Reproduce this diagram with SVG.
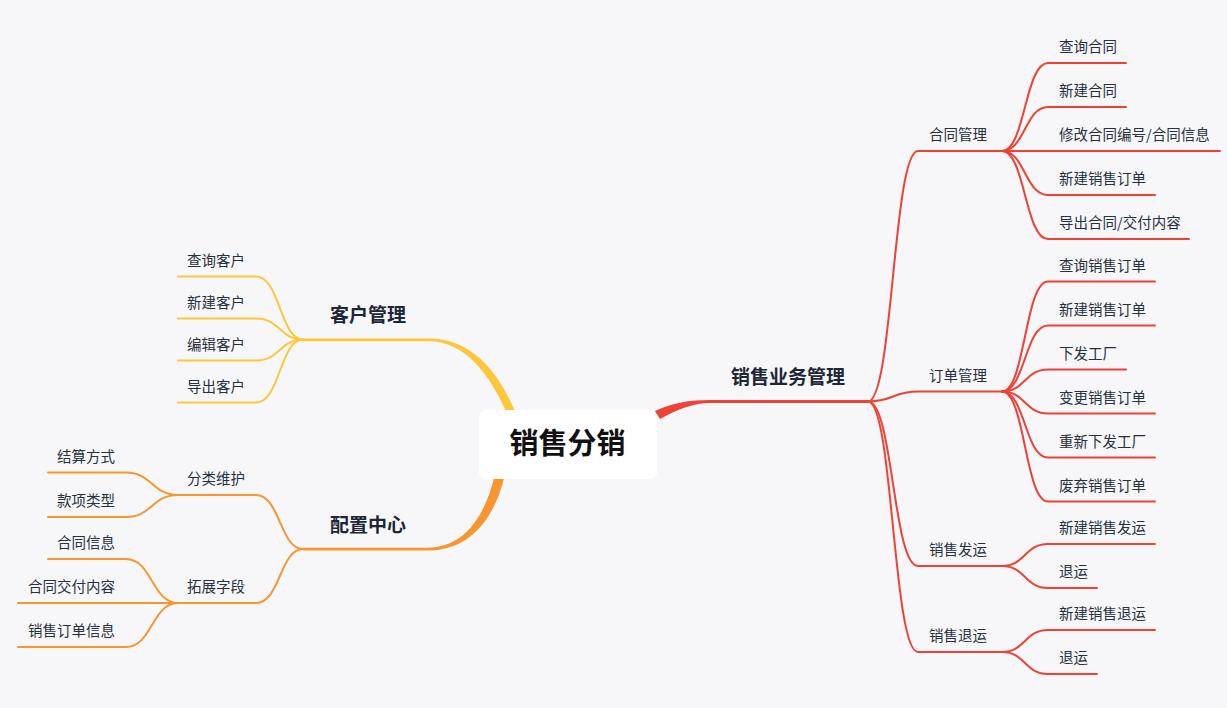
<svg xmlns="http://www.w3.org/2000/svg" width="1227" height="708" viewBox="0 0 1227 708">
<style>
.l{fill:none;stroke-width:2;stroke-linecap:round}
.r{stroke:#ef4136}
.y{stroke:#fcc73a}
.o{stroke:#f7962f}
.t{font-family:"Noto Sans CJK SC","Noto Sans",sans-serif;font-size:14.5px;fill:#27303d}
.b{font-family:"Noto Sans CJK SC","Noto Sans",sans-serif;font-size:19px;font-weight:bold;fill:#1c2636}
.m{font-family:"Noto Sans CJK SC","Noto Sans",sans-serif;font-size:29px;font-weight:bold;fill:#111}
</style>
<rect width="1227" height="708" fill="#f7f7f9"/>
<g id="connectors">
<path fill="#fcc73a" d="M303 338.4 H429 C468 338.4 497 366 517 416 L508 416 C490 373 464 341.2 429 341.2 H303 Z"/>
<path fill="#f7962f" d="M303 547.8 H427 C463 547.8 485 518 495 474 L505 474 C494 523 467 550.6 427 550.6 H303 Z"/>
<path fill="#ef4136" d="M655 411 C672 403 690 400 710 400 H868 V403 H710 C694 403 678 409 660 419 Z"/>
<path class="l y" d="M303 339.5 C280 339.5 280 276.5 256 276.5 H178"/>
<path class="l y" d="M303 339.5 C280 339.5 280 318.5 256 318.5 H178"/>
<path class="l y" d="M303 339.5 C280 339.5 280 360.5 256 360.5 H178"/>
<path class="l y" d="M303 339.5 C280 339.5 280 402.5 256 402.5 H178"/>
<path class="l o" d="M303 549 C280 549 280 495 256 495 H178"/>
<path class="l o" d="M303 549 C280 549 280 603 256 603 H178"/>
<path class="l o" d="M178 495 C152 495 152 472.5 126 472.5 H48"/>
<path class="l o" d="M178 495 C152 495 152 517 126 517 H48"/>
<path class="l o" d="M178 603 C152 603 152 559 126 559 H48"/>
<path class="l o" d="M178 603 H18"/>
<path class="l o" d="M178 603 C152 603 152 647 126 647 H18"/>
<path class="l r" d="M868 401.5 C893 401.5 893 151 918 151 H1002"/>
<path class="l r" d="M868 401.5 C893 401.5 893 391.5 918 391.5 H1002"/>
<path class="l r" d="M868 401.5 C893 401.5 893 566 918 566 H1002"/>
<path class="l r" d="M868 401.5 C893 401.5 893 652 918 652 H1002"/>
<path class="l r" d="M1002 151 C1025 151 1025 63 1048 63 H1126"/>
<path class="l r" d="M1002 151 C1025 151 1025 107 1048 107 H1126"/>
<path class="l r" d="M1002 151 H1220"/>
<path class="l r" d="M1002 151 C1025 151 1025 195 1048 195 H1155"/>
<path class="l r" d="M1002 151 C1025 151 1025 239 1048 239 H1189"/>
<path class="l r" d="M1002 391.5 C1025 391.5 1025 281.5 1048 281.5 H1155"/>
<path class="l r" d="M1002 391.5 C1025 391.5 1025 325.5 1048 325.5 H1155"/>
<path class="l r" d="M1002 391.5 C1025 391.5 1025 369.5 1048 369.5 H1126"/>
<path class="l r" d="M1002 391.5 C1025 391.5 1025 413.5 1048 413.5 H1155"/>
<path class="l r" d="M1002 391.5 C1025 391.5 1025 457.5 1048 457.5 H1155"/>
<path class="l r" d="M1002 391.5 C1025 391.5 1025 501.5 1048 501.5 H1155"/>
<path class="l r" d="M1002 566 C1025 566 1025 544 1048 544 H1155"/>
<path class="l r" d="M1002 566 C1025 566 1025 588 1048 588 H1097"/>
<path class="l r" d="M1002 652 C1025 652 1025 630 1048 630 H1155"/>
<path class="l r" d="M1002 652 C1025 652 1025 674 1048 674 H1097"/>
</g>
<g id="root">
<rect x="479" y="410" width="178" height="69" rx="7" fill="#fff"/>
<text class="m" x="567.5" y="454" text-anchor="middle">销售分销</text>
</g>
<g id="n-kehu"><text class="b" x="330" y="322">客户管理</text></g>
<g id="n-kehu-1"><text class="t" x="187" y="266">查询客户</text></g>
<g id="n-kehu-2"><text class="t" x="187" y="308">新建客户</text></g>
<g id="n-kehu-3"><text class="t" x="187" y="350">编辑客户</text></g>
<g id="n-kehu-4"><text class="t" x="187" y="392">导出客户</text></g>
<g id="n-peizhi"><text class="b" x="330" y="532">配置中心</text></g>
<g id="n-fenlei"><text class="t" x="187" y="484">分类维护</text></g>
<g id="n-fenlei-1"><text class="t" x="57" y="462">结算方式</text></g>
<g id="n-fenlei-2"><text class="t" x="57" y="506">款项类型</text></g>
<g id="n-tuozhan"><text class="t" x="187" y="592">拓展字段</text></g>
<g id="n-tuozhan-1"><text class="t" x="57" y="548">合同信息</text></g>
<g id="n-tuozhan-2"><text class="t" x="28" y="592">合同交付内容</text></g>
<g id="n-tuozhan-3"><text class="t" x="28" y="636">销售订单信息</text></g>
<g id="n-yewu"><text class="b" x="731" y="384">销售业务管理</text></g>
<g id="n-hetong"><text class="t" x="929" y="140">合同管理</text></g>
<g id="n-hetong-1"><text class="t" x="1059" y="52">查询合同</text></g>
<g id="n-hetong-2"><text class="t" x="1059" y="96">新建合同</text></g>
<g id="n-hetong-3"><text class="t" x="1059" y="140">修改合同编号/合同信息</text></g>
<g id="n-hetong-4"><text class="t" x="1059" y="184">新建销售订单</text></g>
<g id="n-hetong-5"><text class="t" x="1059" y="228">导出合同/交付内容</text></g>
<g id="n-dingdan"><text class="t" x="929" y="380.5">订单管理</text></g>
<g id="n-dingdan-1"><text class="t" x="1059" y="270.5">查询销售订单</text></g>
<g id="n-dingdan-2"><text class="t" x="1059" y="314.5">新建销售订单</text></g>
<g id="n-dingdan-3"><text class="t" x="1059" y="358.5">下发工厂</text></g>
<g id="n-dingdan-4"><text class="t" x="1059" y="402.5">变更销售订单</text></g>
<g id="n-dingdan-5"><text class="t" x="1059" y="446.5">重新下发工厂</text></g>
<g id="n-dingdan-6"><text class="t" x="1059" y="490.5">废弃销售订单</text></g>
<g id="n-fayun"><text class="t" x="929" y="555">销售发运</text></g>
<g id="n-fayun-1"><text class="t" x="1059" y="533">新建销售发运</text></g>
<g id="n-fayun-2"><text class="t" x="1059" y="577">退运</text></g>
<g id="n-tuiyun"><text class="t" x="929" y="641">销售退运</text></g>
<g id="n-tuiyun-1"><text class="t" x="1059" y="619">新建销售退运</text></g>
<g id="n-tuiyun-2"><text class="t" x="1059" y="663">退运</text></g>
</svg>
